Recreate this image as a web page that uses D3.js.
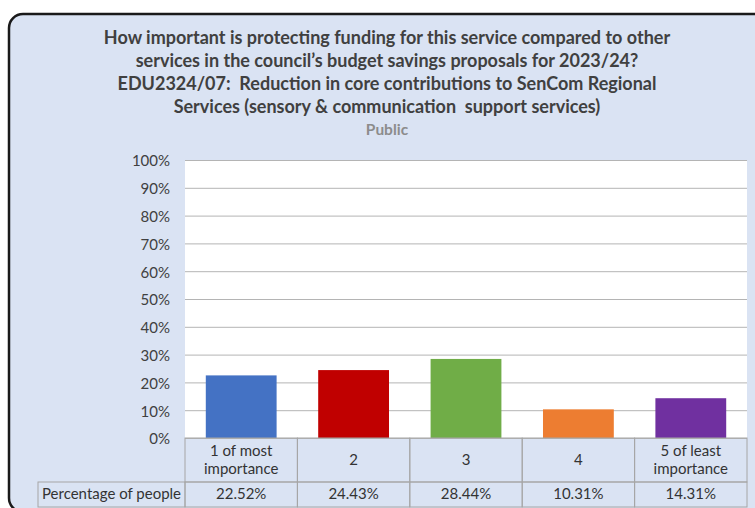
<!DOCTYPE html>
<meta charset="utf-8">
<style>
body { margin: 0; background: #fff; }
text { font-family: Lato, "Open Sans", sans-serif; white-space: pre; }
.grid line { stroke: #b4b4b4; stroke-width: 1px; }
.axis text { fill: #404040; font-size: 15px; }
.cell { fill: none; stroke: #a6a6a6; stroke-width: 1px; }
</style>
<body>
<script src="https://cdn.jsdelivr.net/npm/d3@7/dist/d3.min.js"></script>
<script>

// data
var categories = ["1 of most\nimportance", "2", "3", "4", "5 of least\nimportance"];
var values = [22.52, 24.43, 28.44, 10.31, 14.31];
var colours = ["#4472c4", "#c00000", "#70ad47", "#ed7d31", "#7030a0"];
var yTicks = [0, 10, 20, 30, 40, 50, 60, 70, 80, 90, 100];
var rowLabel = "Percentage of people";
var titleLines = [
  "How important is protecting funding for this service compared to other",
  "services in the council\u2019s budget savings proposals for 2023/24?",
  "EDU2324/07:  Reduction in core contributions to SenCom Regional",
  "Services (sensory & communication  support services)"
];
var subtitle = "Public";

var W = 755, H = 508;
var plot = {left: 185, right: 747, top: 160, bottom: 438};
var tableLeft = 38, catRowBottom = 482, dataRowBottom = 507;

var svg = d3.select("body").append("svg")
    .attr("width", W)
    .attr("height", H);

// outer chart box
svg.append("rect")
    .attr("x", 9).attr("y", 14)
    .attr("width", 770).attr("height", 498)
    .attr("rx", 14)
    .attr("fill", "#dae3f3")
    .attr("stroke", "#1a1a1a")
    .attr("stroke-width", 2.5);

// title
svg.selectAll(".title")
    .data(titleLines)
  .enter().append("text")
    .attr("class", "title")
    .attr("x", 387)
    .attr("y", function(d, i) { return 44 + i * 23; })
    .attr("text-anchor", "middle")
    .attr("font-size", "18px")
    .attr("font-weight", "bold")
    .attr("fill", "#404040")
    .text(function(d) { return d; });

svg.append("text")
    .attr("x", 387).attr("y", 135)
    .attr("text-anchor", "middle")
    .attr("font-size", "15.5px")
    .attr("font-weight", "bold")
    .attr("fill", "#8c8c8c")
    .text(subtitle);

// scales
var x = d3.scaleBand()
    .domain(categories)
    .range([plot.left, plot.right])
    .paddingInner(0.37)
    .paddingOuter(0.185);

var cols = d3.scaleBand()
    .domain(categories)
    .range([plot.left, plot.right]);

var y = d3.scaleLinear()
    .domain([0, 100])
    .range([plot.bottom, plot.top]);

// plot area
svg.append("rect")
    .attr("x", plot.left).attr("y", plot.top)
    .attr("width", plot.right - plot.left)
    .attr("height", plot.bottom - plot.top)
    .attr("fill", "#fff");

// gridlines
svg.append("g")
    .attr("class", "grid")
    .attr("transform", "translate(" + plot.left + ",0)")
    .call(d3.axisLeft(y).tickValues(yTicks).tickSize(-(plot.right - plot.left)).tickFormat(""))
    .call(function(g) { g.select(".domain").remove(); });

// y axis labels
svg.append("g")
    .attr("class", "axis")
    .attr("transform", "translate(" + (plot.left - 15) + ",1)")
    .call(d3.axisLeft(y).tickValues(yTicks).tickSize(0).tickPadding(0)
        .tickFormat(function(d) { return d + "%"; }))
    .call(function(g) { g.select(".domain").remove(); });

// bars
svg.selectAll(".bar")
    .data(values)
  .enter().append("rect")
    .attr("class", "bar")
    .attr("x", function(d, i) { return x(categories[i]); })
    .attr("width", x.bandwidth())
    .attr("y", function(d) { return y(d); })
    .attr("height", function(d) { return y(0) - y(d); })
    .attr("fill", function(d, i) { return colours[i]; });

// data table
var table = svg.append("g");

categories.forEach(function(c, i) {
  table.append("rect")
      .attr("class", "cell")
      .attr("x", cols(c)).attr("y", plot.bottom)
      .attr("width", cols.bandwidth())
      .attr("height", catRowBottom - plot.bottom);
  table.append("rect")
      .attr("class", "cell")
      .attr("x", cols(c)).attr("y", catRowBottom)
      .attr("width", cols.bandwidth())
      .attr("height", dataRowBottom - catRowBottom);

  var lines = c.split("\n");
  var cx = cols(c) + cols.bandwidth() / 2;
  var t = table.append("text")
      .attr("x", cx)
      .attr("text-anchor", "middle")
      .attr("font-size", "15px")
      .attr("fill", "#333");
  if (lines.length == 1) {
    t.attr("y", 465).text(lines[0]);
  } else {
    lines.forEach(function(l, j) {
      t.append("tspan").attr("x", cx).attr("y", 456 + j * 18).text(l);
    });
  }

  table.append("text")
      .attr("x", cx).attr("y", 499)
      .attr("text-anchor", "middle")
      .attr("font-size", "15px")
      .attr("fill", "#333")
      .text(values[i].toFixed(2) + "%");
});

table.append("rect")
    .attr("class", "cell")
    .attr("x", tableLeft).attr("y", catRowBottom)
    .attr("width", plot.left - tableLeft)
    .attr("height", dataRowBottom - catRowBottom);

table.append("text")
    .attr("x", (tableLeft + plot.left) / 2).attr("y", 499)
    .attr("text-anchor", "middle")
    .attr("font-size", "15px")
    .attr("fill", "#333")
    .text(rowLabel);

</script>
</body>
